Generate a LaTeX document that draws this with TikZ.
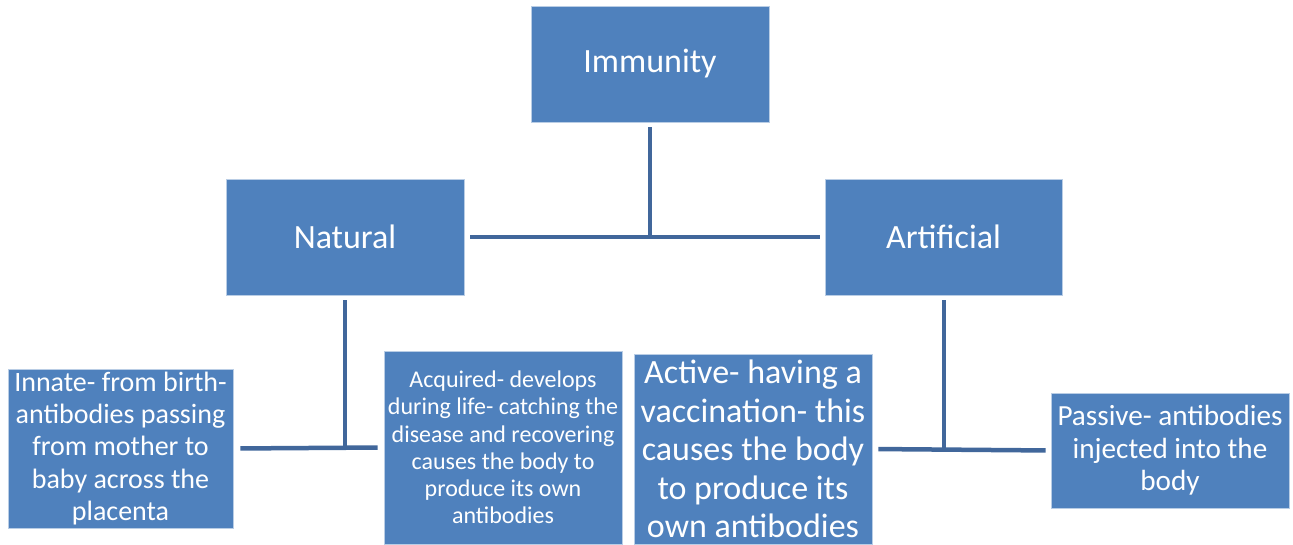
\documentclass[tikz,border=0pt]{standalone}
\usepackage{fontspec}
\setmainfont{Carlito}
\usepackage{xcolor}
\usepackage{tikz}

\definecolor{boxblue}{HTML}{4F81BD}
\definecolor{boxedge}{HTML}{B9CDE5}
\definecolor{linkblue}{HTML}{41679B}

\begin{document}
\begin{tikzpicture}[x=1pt, y=1pt,
        box/.style={rectangle, fill=boxblue, draw=boxedge, line width=0.8pt,
            text=white, align=center, inner sep=2pt},
        link/.style={draw=linkblue, line width=4.5pt}]
        \useasboundingbox (0,0) rectangle (1293,544);

        \node[box, minimum width=238, minimum height=116,
            font=\fontsize{34}{40}\selectfont] (imm) at (650,480) {Immunity};
        \node[box, minimum width=238, minimum height=116,
            font=\fontsize{34}{40}\selectfont] (nat) at (345,307) {Natural};
        \node[box, minimum width=237, minimum height=116,
            font=\fontsize{34}{40}\selectfont] (art) at (943.5,307) {Artificial};

        \node[box, minimum width=225, minimum height=159,
            font=\fontsize{28}{32.3}\selectfont] (inn) at (120.5,95.5)
            {Innate- from birth-\\antibodies passing\\from mother to\\baby across the\\placenta};
        \node[box, minimum width=238, minimum height=193,
            font=\fontsize{24}{27.2}\selectfont] (acq) at (503,96.5)
            {Acquired- develops\\during life- catching the\\disease and recovering\\causes the body to\\produce its own\\antibodies};
        \node[box, minimum width=238, minimum height=190,
            font=\fontsize{34}{38.4}\selectfont] (act) at (753,95)
            {Active- having a\\vaccination- this\\causes the body\\to produce its\\own antibodies};
        \node[box, minimum width=238, minimum height=115,
            font=\fontsize{29.2}{32.5}\selectfont] (pas) at (1170,93.5)
            {Passive- antibodies\\injected into the\\body};

        \draw[link, shorten <=6pt, shorten >=5pt] (nat.east) -- (art.west);
        \draw[link, line width=4pt, shorten <=5pt] (imm.south) -- (imm.south |- nat.east);

        \draw[link, shorten <=7pt, shorten >=6pt] (inn.east) -- (acq.west);
        \draw[link, line width=4pt, shorten <=5pt] (nat.south) -- (nat.south |- inn.east);

        \draw[link, shorten <=6pt, shorten >=5pt] (act.east) -- (pas.west);
        \draw[link, line width=4pt, shorten <=5pt] (art.south) -- (art.south |- act.east);
    \end{tikzpicture}
\end{document}
